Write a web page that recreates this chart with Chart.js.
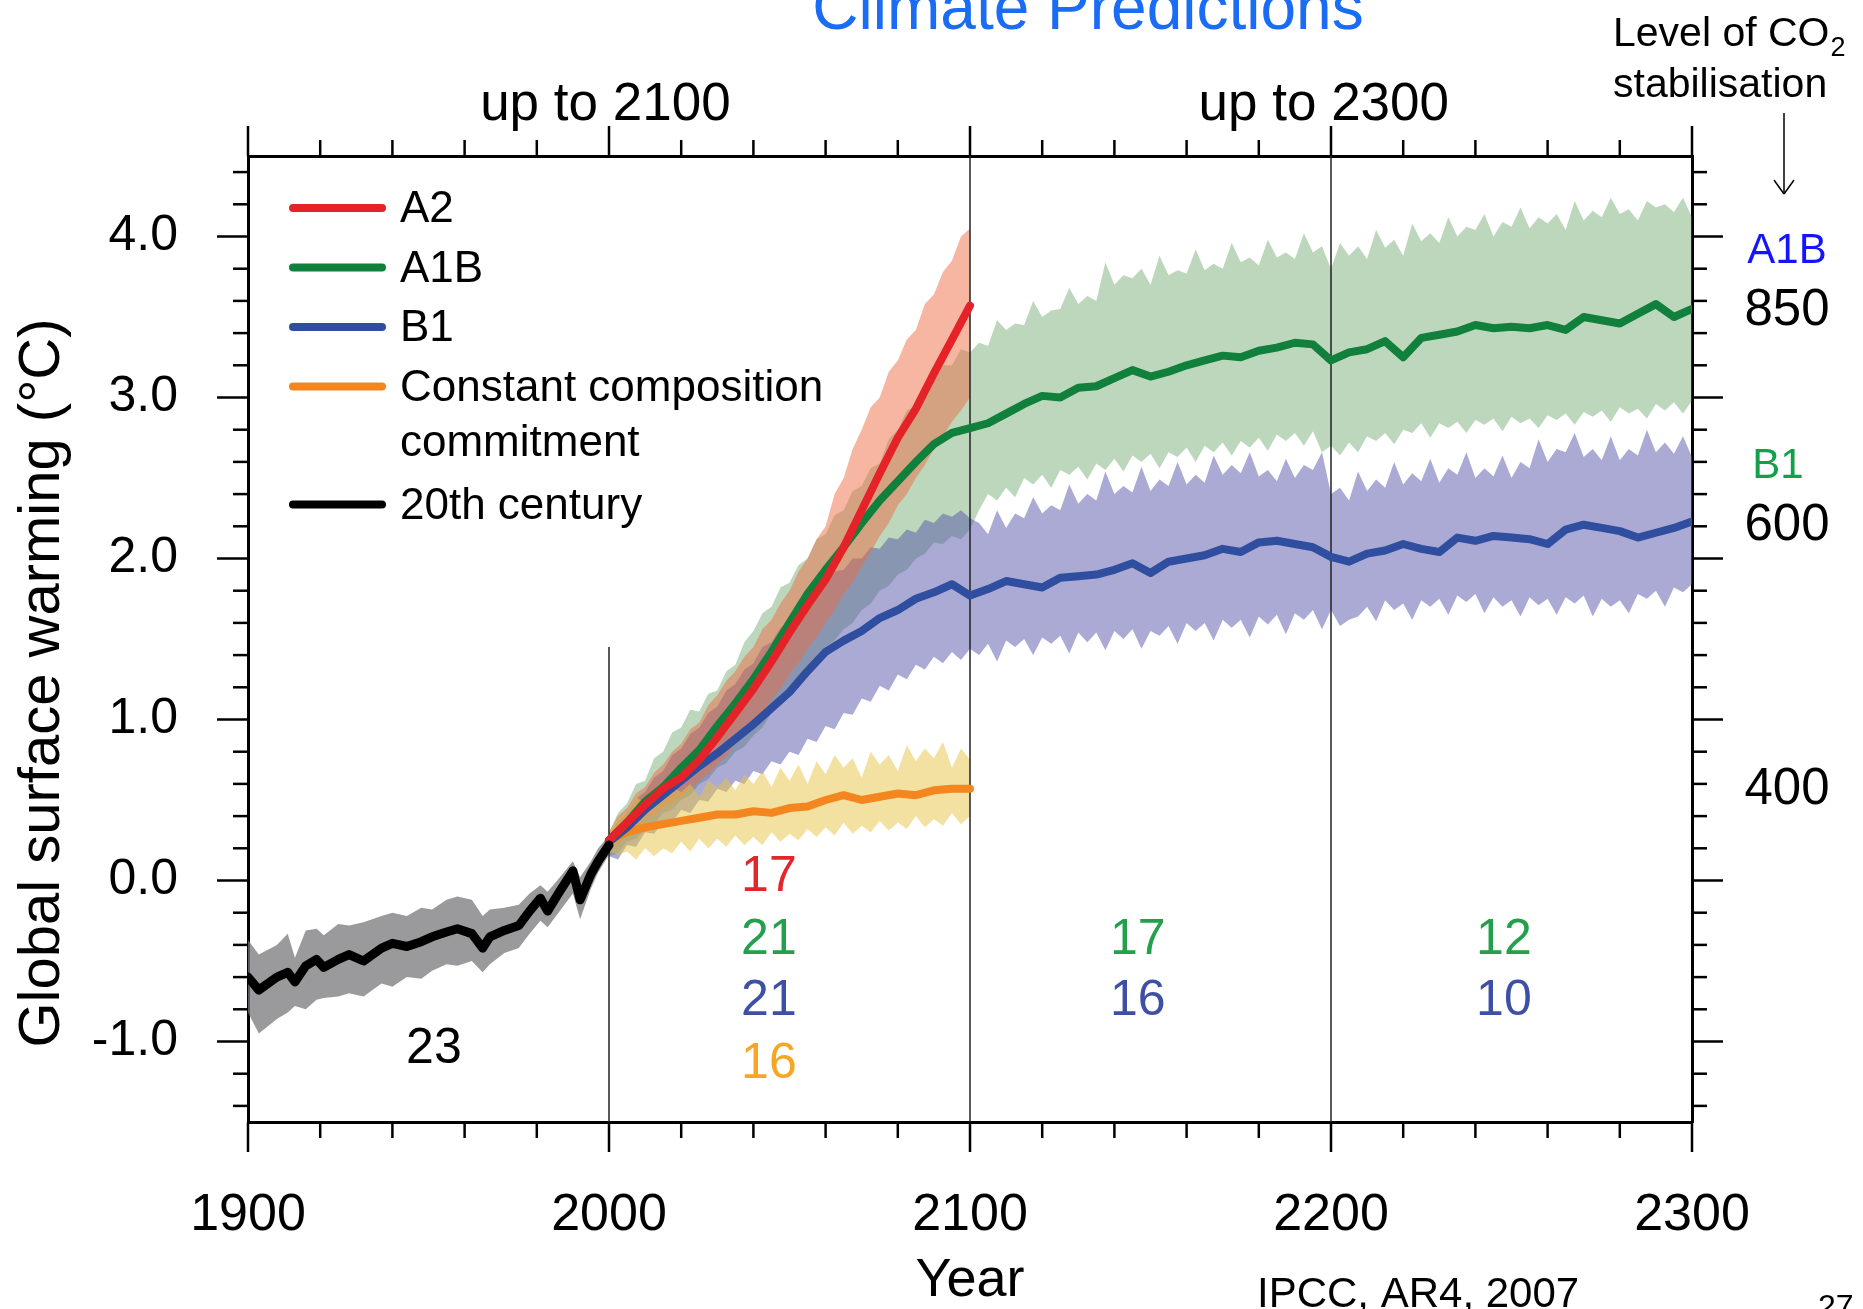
<!DOCTYPE html>
<html>
<head>
<meta charset="utf-8">
<title>Climate Predictions</title>
<script src="https://cdn.jsdelivr.net/npm/chart.js@4.4.1/dist/chart.umd.min.js"></script>
<style>
  html, body { margin: 0; padding: 0; background: #fff; }
  #wrap { position: relative; width: 1863px; height: 1309px; }
</style>
</head>
<body>
<div id="wrap"><canvas id="chart"></canvas></div>
<script>
// ---- data (global surface warming, deg C) ----
var c20Years = [1900, 1903, 1908, 1911, 1913, 1916, 1919, 1921, 1925, 1928, 1932, 1937, 1940, 1944, 1948, 1951,
    1955, 1958, 1962, 1965, 1967, 1971, 1975, 1978, 1981, 1983, 1986, 1990, 1992, 1995, 1997, 2000];
var c20Mean = [-0.60, -0.68, -0.60, -0.57, -0.63, -0.53, -0.49, -0.54, -0.49, -0.46, -0.50, -0.42, -0.39, -0.41, -0.38, -0.35,
    -0.32, -0.30, -0.33, -0.42, -0.35, -0.31, -0.28, -0.19, -0.11, -0.19, -0.08, 0.06, -0.12, 0.04, 0.12, 0.22];
var c20High = [-0.37, -0.46, -0.40, -0.33, -0.48, -0.31, -0.30, -0.34, -0.27, -0.28, -0.26, -0.22, -0.20, -0.22, -0.17, -0.18,
    -0.12, -0.10, -0.12, -0.22, -0.18, -0.17, -0.15, -0.08, -0.03, -0.07, 0.01, 0.12, 0.02, 0.12, 0.20, 0.28];
var c20Low = [-0.82, -0.95, -0.86, -0.82, -0.78, -0.80, -0.74, -0.73, -0.72, -0.70, -0.72, -0.64, -0.66, -0.60, -0.61, -0.56,
    -0.52, -0.53, -0.50, -0.57, -0.52, -0.45, -0.42, -0.33, -0.25, -0.29, -0.20, -0.08, -0.24, -0.05, 0.05, 0.16];

// multi-model means, every 5 years
var shortYears = [2000, 2005, 2010, 2015, 2020, 2025, 2030, 2035, 2040, 2045, 2050, 2055, 2060, 2065, 2070, 2075, 2080, 2085, 2090, 2095, 2100];
var longYears = [2000, 2005, 2010, 2015, 2020, 2025, 2030, 2035, 2040, 2045, 2050, 2055, 2060, 2065, 2070, 2075, 2080, 2085, 2090, 2095, 2100,
    2105, 2110, 2115, 2120, 2125, 2130, 2135, 2140, 2145, 2150, 2155, 2160, 2165, 2170, 2175, 2180, 2185, 2190, 2195, 2200,
    2205, 2210, 2215, 2220, 2225, 2230, 2235, 2240, 2245, 2250, 2255, 2260, 2265, 2270, 2275, 2280, 2285, 2290, 2295, 2300];

var a2Mean = [0.25, 0.36, 0.47, 0.57, 0.64, 0.75, 0.89, 1.04, 1.19, 1.36, 1.54, 1.71, 1.87, 2.07, 2.30, 2.53, 2.75, 2.93, 3.15, 3.36, 3.57];
var commitMean = [0.25, 0.30, 0.33, 0.35, 0.37, 0.39, 0.41, 0.41, 0.43, 0.42, 0.45, 0.46, 0.50, 0.53, 0.50, 0.52, 0.54, 0.53, 0.56, 0.57, 0.57];
var a1bMean = [0.25, 0.36, 0.49, 0.58, 0.70, 0.81, 0.96, 1.10, 1.25, 1.42, 1.60, 1.78, 1.93, 2.07, 2.22, 2.36, 2.48, 2.60, 2.71, 2.78, 2.81,
    2.84, 2.90, 2.96, 3.01, 3.00, 3.06, 3.07, 3.12, 3.17, 3.13, 3.16, 3.20, 3.23, 3.26, 3.25, 3.29, 3.31, 3.34, 3.33, 3.23,
    3.28, 3.30, 3.35, 3.25, 3.37, 3.39, 3.41, 3.45, 3.43, 3.44, 3.43, 3.45, 3.42, 3.50, 3.48, 3.46, 3.52, 3.58, 3.50, 3.55];
var b1Mean = [0.24, 0.33, 0.44, 0.53, 0.62, 0.71, 0.79, 0.88, 0.97, 1.07, 1.17, 1.30, 1.42, 1.49, 1.55, 1.63, 1.68, 1.75, 1.79, 1.84, 1.77,
    1.81, 1.86, 1.84, 1.82, 1.88, 1.89, 1.90, 1.93, 1.97, 1.91, 1.98, 2.00, 2.02, 2.06, 2.04, 2.10, 2.11, 2.09, 2.07, 2.01,
    1.98, 2.03, 2.05, 2.09, 2.06, 2.04, 2.13, 2.11, 2.14, 2.13, 2.12, 2.09, 2.18, 2.21, 2.19, 2.17, 2.13, 2.16, 2.19, 2.23];

// spread (+/- one standard deviation), every 2.5 years
var bandYears = [2000, 2002.5, 2005, 2007.5, 2010, 2012.5, 2015, 2017.5, 2020, 2022.5, 2025, 2027.5, 2030, 2032.5, 2035, 2037.5,
    2040, 2042.5, 2045, 2047.5, 2050, 2052.5, 2055, 2057.5, 2060, 2062.5, 2065, 2067.5, 2070, 2072.5, 2075, 2077.5,
    2080, 2082.5, 2085, 2087.5, 2090, 2092.5, 2095, 2097.5, 2100,
    2102.5, 2105, 2107.5, 2110, 2112.5, 2115, 2117.5, 2120, 2122.5, 2125, 2127.5, 2130, 2132.5, 2135, 2137.5, 2140,
    2142.5, 2145, 2147.5, 2150, 2152.5, 2155, 2157.5, 2160, 2162.5, 2165, 2167.5, 2170, 2172.5, 2175, 2177.5, 2180,
    2182.5, 2185, 2187.5, 2190, 2192.5, 2195, 2197.5, 2200,
    2202.5, 2205, 2207.5, 2210, 2212.5, 2215, 2217.5, 2220, 2222.5, 2225, 2227.5, 2230, 2232.5, 2235, 2237.5, 2240,
    2242.5, 2245, 2247.5, 2250, 2252.5, 2255, 2257.5, 2260, 2262.5, 2265, 2267.5, 2270, 2272.5, 2275, 2277.5, 2280,
    2282.5, 2285, 2287.5, 2290, 2292.5, 2295, 2297.5, 2300];

var a2High = [0.30, 0.40, 0.45, 0.54, 0.58, 0.67, 0.72, 0.80, 0.85, 0.94, 0.98, 1.09, 1.15, 1.24, 1.30, 1.39, 1.45, 1.56, 1.62, 1.72,
    1.80, 1.92, 2.00, 2.12, 2.20, 2.40, 2.50, 2.68, 2.80, 2.94, 3.00, 3.16, 3.23, 3.36, 3.42, 3.58, 3.64, 3.78, 3.85, 4.00, 4.05];
var a2Low = [0.18, 0.22, 0.28, 0.32, 0.38, 0.40, 0.45, 0.48, 0.52, 0.56, 0.62, 0.66, 0.72, 0.77, 0.85, 0.90, 0.98, 1.04, 1.12, 1.19,
    1.28, 1.35, 1.44, 1.51, 1.60, 1.68, 1.78, 1.85, 1.95, 2.04, 2.14, 2.22, 2.33, 2.40, 2.50, 2.58, 2.68, 2.76, 2.85, 2.92, 3.00];

var commitHigh = [0.30, 0.38, 0.42, 0.52, 0.48, 0.56, 0.50, 0.58, 0.55, 0.60, 0.52, 0.62, 0.58, 0.64, 0.56, 0.66, 0.60, 0.68, 0.58, 0.70,
    0.62, 0.72, 0.60, 0.74, 0.66, 0.78, 0.70, 0.76, 0.64, 0.80, 0.72, 0.78, 0.68, 0.84, 0.74, 0.82, 0.76, 0.86, 0.70, 0.82, 0.75];
var commitLow = [0.18, 0.16, 0.18, 0.13, 0.20, 0.15, 0.20, 0.17, 0.24, 0.18, 0.26, 0.20, 0.26, 0.21, 0.28, 0.22, 0.27, 0.22, 0.30, 0.24,
    0.29, 0.25, 0.32, 0.27, 0.33, 0.28, 0.36, 0.29, 0.34, 0.30, 0.37, 0.31, 0.36, 0.32, 0.40, 0.33, 0.38, 0.34, 0.42, 0.35, 0.40];

var a1bHigh = [0.30, 0.42, 0.48, 0.60, 0.62, 0.76, 0.80, 0.92, 0.95, 1.06, 1.05, 1.16, 1.18, 1.30, 1.34, 1.48, 1.55, 1.66, 1.70, 1.82,
    1.85, 1.96, 2.00, 2.12, 2.15, 2.27, 2.30, 2.42, 2.45, 2.56, 2.59, 2.74, 2.80, 2.92, 2.95, 3.07, 3.10, 3.20, 3.20, 3.30, 3.28,
    3.34, 3.32, 3.48, 3.42, 3.46, 3.45, 3.60, 3.50, 3.54, 3.55, 3.68, 3.58, 3.63, 3.60, 3.84, 3.70, 3.76, 3.74, 3.80, 3.70,
    3.88, 3.76, 3.79, 3.77, 3.92, 3.79, 3.83, 3.80, 3.96, 3.84, 3.87, 3.82, 3.98, 3.87, 3.90, 3.86, 4.02, 3.90, 3.94, 3.80,
    3.96, 3.88, 3.94, 3.86, 4.04, 3.93, 3.98, 3.88, 4.08, 3.97, 4.02, 3.96, 4.12, 4.00, 4.06, 4.04, 4.14, 4.00, 4.09, 4.06,
    4.18, 4.05, 4.12, 4.08, 4.14, 4.04, 4.22, 4.10, 4.16, 4.12, 4.24, 4.14, 4.17, 4.10, 4.22, 4.18, 4.20, 4.15, 4.24, 4.12];
var a1bLow = [0.15, 0.17, 0.24, 0.26, 0.32, 0.35, 0.42, 0.44, 0.50, 0.53, 0.60, 0.63, 0.70, 0.73, 0.80, 0.83, 0.90, 0.95, 1.04, 1.09,
    1.18, 1.22, 1.31, 1.36, 1.45, 1.49, 1.56, 1.60, 1.68, 1.72, 1.80, 1.83, 1.90, 1.93, 2.00, 2.03, 2.10, 2.09, 2.14, 2.12, 2.18,
    2.30, 2.40, 2.36, 2.44, 2.38, 2.50, 2.46, 2.52, 2.44, 2.55, 2.52, 2.57, 2.49, 2.59, 2.55, 2.62, 2.54, 2.64, 2.60, 2.65,
    2.56, 2.66, 2.63, 2.69, 2.60, 2.70, 2.66, 2.72, 2.64, 2.73, 2.69, 2.75, 2.67, 2.77, 2.73, 2.78, 2.70, 2.79, 2.66, 2.70,
    2.64, 2.72, 2.66, 2.76, 2.73, 2.78, 2.71, 2.80, 2.78, 2.84, 2.75, 2.84, 2.81, 2.85, 2.78, 2.86, 2.83, 2.87, 2.79, 2.88,
    2.84, 2.87, 2.81, 2.89, 2.86, 2.90, 2.83, 2.91, 2.88, 2.92, 2.85, 2.94, 2.90, 2.93, 2.87, 2.96, 2.92, 2.97, 2.90, 2.98];

var b1High = [0.28, 0.37, 0.42, 0.51, 0.55, 0.64, 0.68, 0.78, 0.82, 0.91, 0.95, 1.04, 1.08, 1.18, 1.22, 1.31, 1.35, 1.45, 1.48, 1.57,
    1.60, 1.70, 1.73, 1.82, 1.85, 1.92, 1.93, 2.00, 2.00, 2.07, 2.06, 2.13, 2.12, 2.18, 2.16, 2.24, 2.22, 2.28, 2.26, 2.30, 2.25,
    2.22, 2.15, 2.30, 2.19, 2.28, 2.25, 2.38, 2.28, 2.33, 2.30, 2.46, 2.34, 2.40, 2.36, 2.54, 2.40, 2.45, 2.41, 2.57, 2.42,
    2.49, 2.45, 2.60, 2.46, 2.52, 2.47, 2.64, 2.52, 2.58, 2.53, 2.66, 2.51, 2.55, 2.48, 2.62, 2.50, 2.58, 2.55, 2.66, 2.40,
    2.44, 2.36, 2.54, 2.42, 2.49, 2.44, 2.60, 2.46, 2.53, 2.48, 2.62, 2.47, 2.56, 2.52, 2.66, 2.50, 2.56, 2.51, 2.64, 2.50,
    2.60, 2.56, 2.74, 2.60, 2.68, 2.66, 2.78, 2.63, 2.68, 2.61, 2.76, 2.61, 2.68, 2.64, 2.80, 2.66, 2.72, 2.65, 2.76, 2.63];
var b1Low = [0.15, 0.13, 0.22, 0.21, 0.30, 0.29, 0.37, 0.36, 0.44, 0.42, 0.50, 0.49, 0.57, 0.55, 0.62, 0.60, 0.68, 0.66, 0.74, 0.72,
    0.80, 0.78, 0.88, 0.86, 0.96, 0.94, 1.04, 1.03, 1.13, 1.11, 1.21, 1.18, 1.28, 1.25, 1.34, 1.31, 1.39, 1.35, 1.42, 1.37, 1.44,
    1.40, 1.47, 1.36, 1.49, 1.45, 1.50, 1.40, 1.51, 1.47, 1.52, 1.41, 1.54, 1.48, 1.54, 1.43, 1.55, 1.50, 1.56, 1.44, 1.55,
    1.52, 1.58, 1.47, 1.60, 1.55, 1.60, 1.49, 1.62, 1.57, 1.62, 1.51, 1.64, 1.59, 1.65, 1.53, 1.66, 1.62, 1.68, 1.56, 1.68,
    1.58, 1.62, 1.64, 1.70, 1.61, 1.74, 1.68, 1.72, 1.62, 1.74, 1.70, 1.75, 1.65, 1.77, 1.73, 1.78, 1.66, 1.76, 1.70, 1.74,
    1.64, 1.76, 1.71, 1.75, 1.65, 1.76, 1.72, 1.77, 1.64, 1.75, 1.70, 1.74, 1.66, 1.78, 1.75, 1.80, 1.70, 1.82, 1.79, 1.84];

// number of models per period
var c20Models = [23];
var a2Models = [17];
var a1bModels = [21, 17, 12];
var b1Models = [21, 16, 10];
var commitModels = [16];

var xTicks = [1900, 2000, 2100, 2200, 2300];
var yTicks = [-1, 0, 1, 2, 3, 4];

// CO2 stabilisation levels (ppm) shown on the right
var co2Levels = ['850', '600', '400'];

// ---- styling ----
var FONT = "'Liberation Sans', Arial, Helvetica, sans-serif";
var RED = '#e52228', GREEN = '#10803c', BLUE = '#2f4ea0', ORANGE = '#f3861f', BLACK = '#000000';

Chart.defaults.font.family = FONT;
Chart.defaults.color = '#000';

function pts(xs, ys) {
    return ys.map(function (y, i) { return { x: xs[i], y: y }; });
}

function lineSet(label, xs, ys, color, width, order) {
    return {
        label: label, data: pts(xs, ys), borderColor: color, borderWidth: width,
        borderJoinStyle: 'round', borderCapStyle: 'round', pointRadius: 0, fill: false, order: order
    };
}

// upper edge fills down to the next dataset (the lower edge)
function bandSets(label, xs, hi, lo, color, order) {
    return [
        { label: label + ' high', data: pts(xs, hi), borderWidth: 0, pointRadius: 0, backgroundColor: color, fill: '+1', order: order },
        { label: label + ' low', data: pts(xs, lo), borderWidth: 0, pointRadius: 0, fill: false, order: order + 1 }
    ];
}

var datasets = [].concat(
    [lineSet('20th century', c20Years, c20Mean, BLACK, 9, 1)],
    [lineSet('A2', shortYears, a2Mean, RED, 8, 2)],
    [lineSet('A1B', longYears, a1bMean, GREEN, 8, 3)],
    [lineSet('B1', longYears, b1Mean, BLUE, 8, 4)],
    [lineSet('Constant composition commitment', shortYears, commitMean, ORANGE, 8, 5)],
    bandSets('commit', bandYears, commitHigh, commitLow, 'rgba(232,196,70,0.5)', 10),
    bandSets('A2', bandYears, a2High, a2Low, 'rgba(238,110,70,0.5)', 12),
    bandSets('B1', bandYears, b1High, b1Low, 'rgba(85,85,170,0.5)', 14),
    bandSets('A1B', bandYears, a1bHigh, a1bLow, 'rgba(70,145,70,0.36)', 16),
    bandSets('20th', c20Years, c20High, c20Low, 'rgba(120,120,124,0.75)', 18)
);

// legend entries drawn inside the plot
var legendItems = [
    { lines: ['A2'], color: RED },
    { lines: ['A1B'], color: GREEN },
    { lines: ['B1'], color: BLUE },
    { lines: ['Constant composition', 'commitment'], color: ORANGE },
    { lines: ['20th century'], color: BLACK }
];

function drawText(ctx, str, x, y, size, color, align, baseline) {
    ctx.font = size + 'px ' + FONT;
    ctx.fillStyle = color;
    ctx.textAlign = align || 'center';
    ctx.textBaseline = baseline || 'middle';
    ctx.fillText(str, x, y);
}

function seg(ctx, x1, y1, x2, y2) {
    ctx.beginPath();
    ctx.moveTo(x1, y1);
    ctx.lineTo(x2, y2);
    ctx.stroke();
}

var decorations = {
    id: 'decorations',
    beforeDatasetsDraw: function (chart) {
        var ctx = chart.ctx, xs = chart.scales.x, ys = chart.scales.y, a = chart.chartArea;
        ctx.save();
        ctx.strokeStyle = '#222';
        ctx.lineWidth = 1.5;
        seg(ctx, xs.getPixelForValue(2000), ys.getPixelForValue(1.45), xs.getPixelForValue(2000), a.bottom);
        [2100, 2200].forEach(function (yr) {
            var px = xs.getPixelForValue(yr);
            seg(ctx, px, a.top, px, a.bottom);
        });
        ctx.restore();
    },
    afterDraw: function (chart) {
        var ctx = chart.ctx, xs = chart.scales.x, ys = chart.scales.y, a = chart.chartArea;
        ctx.save();

        // outward tick marks on all four sides
        ctx.strokeStyle = '#000';
        ctx.lineWidth = 2.5;
        for (var i = -7; i <= 22; i++) {
            var py = ys.getPixelForValue(i / 5);
            var len = (i % 5 === 0) ? 31 : 15;
            seg(ctx, a.left, py, a.left - len, py);
            seg(ctx, a.right, py, a.right + len, py);
        }
        for (var yr = 1900; yr <= 2300; yr += 20) {
            var px = xs.getPixelForValue(yr);
            var tl = (yr % 100 === 0) ? 30 : 16;
            seg(ctx, px, a.bottom, px, a.bottom + tl);
            seg(ctx, px, a.top, px, a.top - tl);
        }

        // legend
        var ly = 208;
        legendItems.forEach(function (item) {
            ctx.strokeStyle = item.color;
            ctx.lineWidth = 8;
            ctx.lineCap = 'round';
            seg(ctx, 293, ly, 382, ly);
            item.lines.forEach(function (t, k) {
                drawText(ctx, t, 400, ly + 2 + k * 55, 44, '#000', 'left', 'middle');
            });
            ly += item.lines.length > 1 ? 118 : 59.5;
        });

        // model counts for each period
        var rowY = [0.02, -0.37, -0.75, -1.14];
        drawText(ctx, String(c20Models[0]), xs.getPixelForValue(1951.5), ys.getPixelForValue(-1.05), 50, '#000');
        drawText(ctx, String(a2Models[0]), xs.getPixelForValue(2044.3), ys.getPixelForValue(rowY[0]), 50, '#e3262c');
        drawText(ctx, String(commitModels[0]), xs.getPixelForValue(2044.3), ys.getPixelForValue(rowY[3]), 50, '#f5a623');
        [2044.3, 2146.5, 2247.9].forEach(function (cx, k) {
            drawText(ctx, String(a1bModels[k]), xs.getPixelForValue(cx), ys.getPixelForValue(rowY[1]), 50, '#22a04c');
            drawText(ctx, String(b1Models[k]), xs.getPixelForValue(cx), ys.getPixelForValue(rowY[2]), 50, '#3d50a5');
        });

        // section headings above the frame
        drawText(ctx, 'Climate Predictions', 1088, 29, 64, '#1a6cf5', 'center', 'alphabetic');
        drawText(ctx, 'up to 2100', xs.getPixelForValue(1999), 120, 53, '#000', 'center', 'alphabetic');
        drawText(ctx, 'up to 2300', xs.getPixelForValue(2198), 120, 53, '#000', 'center', 'alphabetic');

        // CO2 stabilisation column
        drawText(ctx, 'Level of CO', 1613, 46, 41, '#000', 'left', 'alphabetic');
        ctx.font = '41px ' + FONT;
        var w = ctx.measureText('Level of CO').width;
        drawText(ctx, '2', 1613 + w + 1, 56, 27, '#000', 'left', 'alphabetic');
        drawText(ctx, 'stabilisation', 1613, 97, 41, '#000', 'left', 'alphabetic');
        ctx.strokeStyle = '#000';
        ctx.lineWidth = 1.5;
        ctx.lineCap = 'butt';
        seg(ctx, 1784, 113, 1784, 194);
        seg(ctx, 1774, 180, 1784, 194);
        seg(ctx, 1794, 180, 1784, 194);

        var rx = a.right + 95;
        drawText(ctx, 'A1B', rx, ys.getPixelForValue(3.91), 42, '#1414ff');
        drawText(ctx, co2Levels[0], rx, ys.getPixelForValue(3.54), 51, '#000');
        drawText(ctx, 'B1', rx - 9, ys.getPixelForValue(2.57), 42, '#12a04a');
        drawText(ctx, co2Levels[1], rx, ys.getPixelForValue(2.20), 51, '#000');
        drawText(ctx, co2Levels[2], rx, ys.getPixelForValue(0.56), 51, '#000');

        // axis titles and source
        ctx.save();
        ctx.translate(59, 683);
        ctx.rotate(-Math.PI / 2);
        drawText(ctx, 'Global surface warming (°C)', 0, 0, 58, '#000', 'center', 'alphabetic');
        ctx.restore();
        drawText(ctx, 'Year', xs.getPixelForValue(2100), 1296, 54, '#000', 'center', 'alphabetic');
        drawText(ctx, 'IPCC, AR4, 2007', 1257, 1307, 42, '#000', 'left', 'alphabetic');
        drawText(ctx, '27', 1818, 1317, 32, '#000', 'left', 'alphabetic');

        ctx.restore();
    }
};

var frameBorder = { display: true, color: '#000', width: 3 };
var noGrid = { display: false, drawTicks: false };

new Chart(document.getElementById('chart'), {
    type: 'line',
    data: { datasets: datasets },
    options: {
        responsive: true,
        maintainAspectRatio: false,
        animation: false,
        layout: { padding: 0 },
        elements: { line: { tension: 0 } },
        plugins: {
            legend: { display: false },
            tooltip: { enabled: false },
            filler: { drawTime: 'beforeDatasetsDraw' }
        },
        scales: {
            x: {
                type: 'linear', position: 'bottom', min: 1900, max: 2300,
                afterBuildTicks: function (s) { s.ticks = xTicks.map(function (v) { return { value: v }; }); },
                afterFit: function (s) { s.height = 187; },
                ticks: { font: { size: 52 }, color: '#000', padding: 62, maxRotation: 0, autoSkip: false,
                    callback: function (v) { return String(v); } },
                grid: noGrid, border: frameBorder
            },
            x2: {
                type: 'linear', position: 'top', min: 1900, max: 2300,
                afterFit: function (s) { s.height = 156; },
                ticks: { display: false }, grid: noGrid, border: frameBorder
            },
            y: {
                type: 'linear', position: 'left', min: -1.5, max: 4.5,
                afterBuildTicks: function (s) { s.ticks = yTicks.map(function (v) { return { value: v }; }); },
                afterFit: function (s) { s.width = 248; },
                ticks: { font: { size: 50 }, color: '#000', padding: 70,
                    callback: function (v) { return v.toFixed(1); } },
                grid: noGrid, border: frameBorder
            },
            y2: {
                type: 'linear', position: 'right', min: -1.5, max: 4.5,
                afterFit: function (s) { s.width = 171; },
                ticks: { display: false }, grid: noGrid, border: frameBorder
            }
        }
    },
    plugins: [decorations]
});
</script>
</body>
</html>
